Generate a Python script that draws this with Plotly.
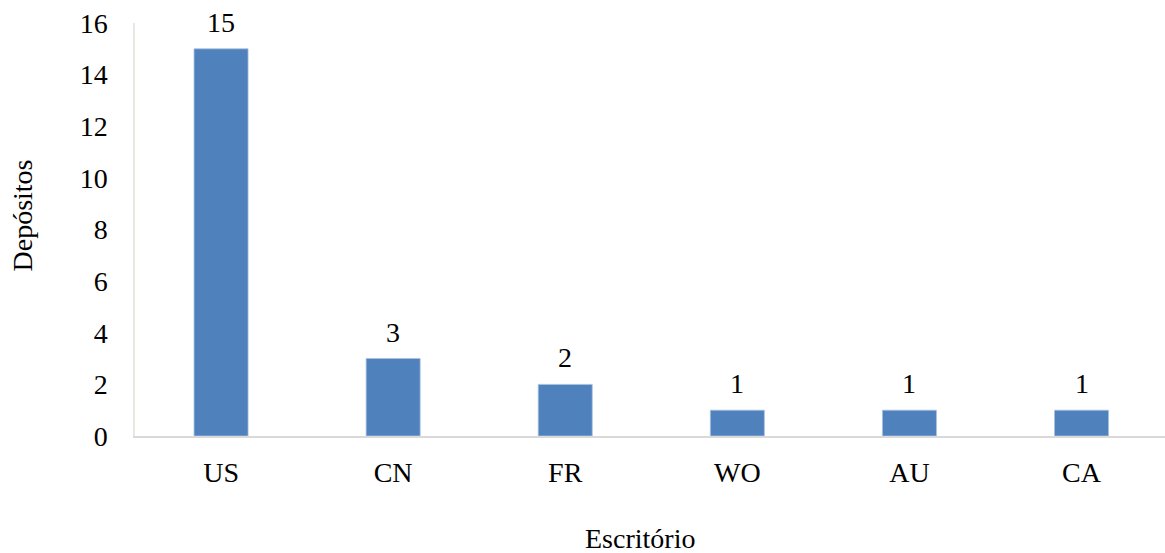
import plotly.graph_objects as go

offices = ["US", "CN", "FR", "WO", "AU", "CA"]
deposits = [15, 3, 2, 1, 1, 1]
y_ticks = [0, 2, 4, 6, 8, 10, 12, 14, 16]

serif = "Liberation Serif, Times New Roman, serif"
bar_color = "#4f81bd"

fig = go.Figure(
    go.Bar(
        x=offices,
        y=deposits,
        marker=dict(color=bar_color, line=dict(color="#a9c1e0", width=0.8)),
        hoverinfo="x+y",
    )
)

# value labels above each bar
for name, val in zip(offices, deposits):
    fig.add_annotation(
        x=name, y=val, text=str(val), showarrow=False,
        yanchor="bottom", yshift=9,
        font=dict(family=serif, size=28, color="black"),
    )

# axis titles
fig.add_annotation(
    xref="paper", yref="paper", x=0.5, y=0, yshift=-102, xshift=-10,
    text="Escritório", showarrow=False, yanchor="middle",
    font=dict(family=serif, size=28, color="black"),
)
fig.add_annotation(
    xref="paper", yref="paper", x=0, y=0.5, xshift=-113, yshift=14,
    text="Depósitos", showarrow=False, textangle=-90, xanchor="center",
    font=dict(family=serif, size=28, color="black"),
)

fig.update_layout(
    width=1165,
    height=553,
    margin=dict(l=135, r=0, t=23, b=117),
    paper_bgcolor="white",
    plot_bgcolor="white",
    bargap=0.686,
    showlegend=False,
    xaxis=dict(
        range=[-0.5, 5.485],
        showline=True,
        linecolor="#d9d9d9",
        linewidth=2,
        showgrid=False,
        ticks="",
        ticklabelstandoff=10,
        tickfont=dict(family=serif, size=28, color="black"),
        fixedrange=True,
    ),
    yaxis=dict(
        range=[0, 16],
        tickvals=y_ticks,
        showline=True,
        linecolor="#e8e8e0",
        linewidth=1.5,
        showgrid=False,
        zeroline=False,
        ticks="",
        ticklabelstandoff=20,
        tickfont=dict(family=serif, size=28, color="black"),
        fixedrange=True,
    ),
)

fig.write_html("out.html")
